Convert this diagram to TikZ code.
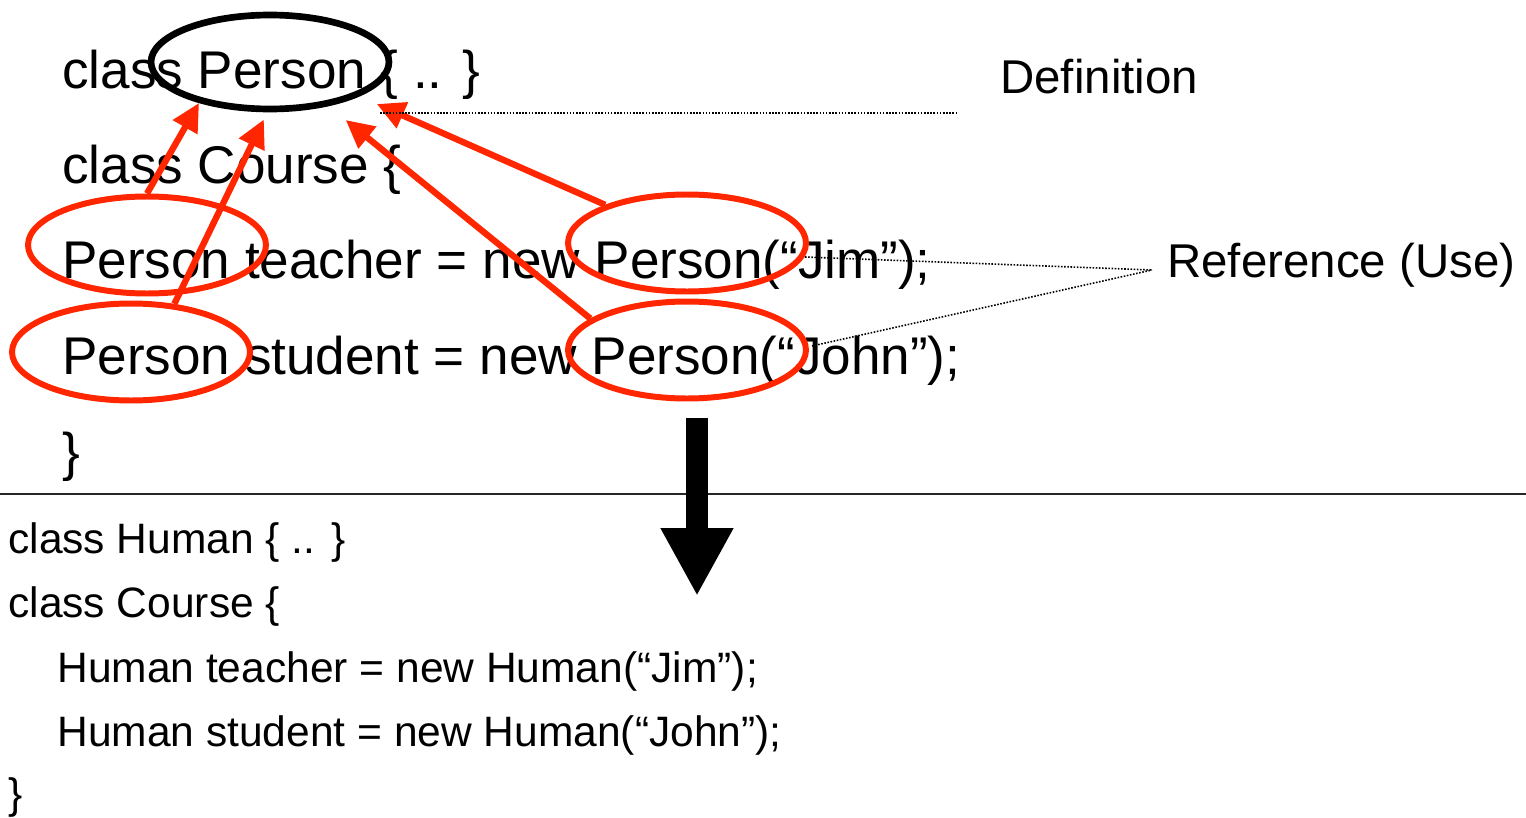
\documentclass[tikz,border=0pt]{standalone}
\usepackage{fontspec}
\setmainfont{Liberation Sans}
\usetikzlibrary{shapes.geometric,arrows.meta}
\definecolor{markred}{RGB}{255,38,0}

\begin{document}
\begin{tikzpicture}[x=0.02cm, y=-0.02cm,
		code_big/.style={anchor=base west,inner sep=0pt,font=\fontsize{30.2pt}{36pt}\selectfont},
		code_small/.style={anchor=base west,inner sep=0pt,font=\fontsize{24.2pt}{29pt}\selectfont},
		label_style/.style={anchor=base west,inner sep=0pt,font=\fontsize{27pt}{32pt}\selectfont},
		ring_style/.style={ellipse,draw=markred,line width=3.4pt,minimum width=4.76cm,minimum height=1.94cm,inner sep=0pt},
		def_style/.style={ellipse,draw=black,line width=3.8pt,minimum width=4.76cm,minimum height=1.88cm,inner sep=0pt},
		use_edge/.style={draw=markred,line width=3.6pt,-{Triangle[length=0.56cm,width=0.54cm]}},
		leader_style/.style={draw=black,line width=0.9pt,dash pattern=on 0.9pt off 0.9pt}]

		\useasboundingbox (0,0) rectangle (1526,818);

		% original code
		\node[code_big] (l1) at (62,88)  {class Person \{ .. \}};
		\node[code_big] (l2) at (62,183) {class Course \{};
		\node[code_big] (l3) at (62,278) {Person teacher = new Person(“Jim”);};
		\node[code_big] (l4) at (62,374) {Person student = new Person(“John”);};
		\node[code_big] (l5) at (62,470) {\}};

		% renamed code
		\node[code_small] (m1) at (8,553)  {class Human \{ .. \}};
		\node[code_small] (m2) at (8,617)  {class Course \{};
		\node[code_small] (m3) at (57,682) {Human teacher = new Human(“Jim”);};
		\node[code_small] (m4) at (57,746) {Human student = new Human(“John”);};
		\node[code_small] (m5) at (8,808)  {\}};

		\node[label_style] (def) at (1000,93)  {Definition};
		\node[label_style] (ref) at (1167,277) {Reference (Use)};

		\draw[line width=1.2pt,black!85] (0,494) -- (1526,494);

		% rings
		\node[def_style]  (person) at (270,62)  {};
		\node[ring_style] (e1) at (147,245) {};
		\node[ring_style] (e2) at (131,352) {};
		\node[ring_style] (e3) at (687,243) {};
		\node[ring_style] (e4) at (687,350) {};

		\draw[use_edge] (e1.north) -- (person.210);
		\draw[use_edge,shorten >=0.16cm] (e2.48) -- (person.267);
		\draw[use_edge,shorten >=0.44cm] (e4.162) -- (person.323);
		\draw[use_edge,shorten >=0.38cm] (e3.155) -- (person.339);

		% leaders
		\coordinate (defL) at (380,113);
		\coordinate (defR) at (958,113);
		\coordinate (refpt) at (1152,270);
		\coordinate (jimpt) at (805,257);
		\coordinate (johnpt) at (812,346);
		\draw[leader_style] (defL) -- (defR);
		\draw[leader_style] (jimpt) -- (refpt);
		\draw[leader_style] (johnpt) -- (refpt);

		% rename step
		\coordinate (shaft) at (697,418);
		\coordinate (tip) at (697,596);
		\draw[line width=0.44cm,-{Triangle[length=1.36cm,width=1.36cm]}] (shaft) -- (tip);
\end{tikzpicture}
\end{document}
